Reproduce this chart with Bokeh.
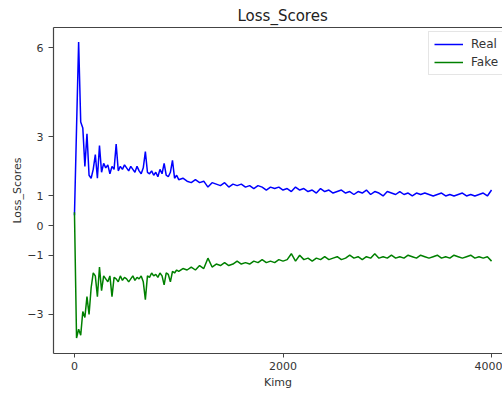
from bokeh.plotting import figure
from bokeh.models import FixedTicker, Range1d, Legend, LegendItem, LinearAxis
from bokeh.embed import file_html
from bokeh.resources import INLINE

# ---- data ----
kimg_early = list(range(0, 1000, 20))
kimg_late = list(range(1000, 4001, 40))
kimg = kimg_early + kimg_late

real_early = [0.35, 3.3, 6.2, 3.5, 3.3, 2.0, 3.1, 1.7, 1.6, 1.9,
              2.4, 1.6, 2.7, 1.8, 2.1, 1.95, 2.05, 1.75, 2.0, 1.9,
              2.75, 1.85, 2.0, 1.9, 2.05, 1.95, 1.85, 2.0, 1.9, 1.8,
              2.0, 1.85, 1.75, 1.95, 2.5, 1.8, 1.75, 1.85, 1.7, 1.8,
              1.65, 1.9, 1.75, 2.1, 1.7, 1.65, 1.8, 2.2, 1.6, 1.7]
real_late = [1.55, 1.6, 1.5, 1.45, 1.55, 1.45, 1.5, 1.3, 1.45, 1.4,
             1.35, 1.45, 1.3, 1.4, 1.35, 1.4, 1.3, 1.35, 1.25, 1.35,
             1.3, 1.2, 1.3, 1.25, 1.3, 1.2, 1.25, 1.15, 1.3, 1.2,
             1.25, 1.15, 1.2, 1.1, 1.25, 1.15, 1.2, 1.1, 1.15, 1.2,
             1.1, 1.15, 1.05, 1.15, 1.1, 1.2, 1.05, 1.15, 1.1, 1.0,
             1.15, 1.1, 1.05, 1.15, 1.05, 1.1, 1.0, 1.1, 1.05, 1.1,
             1.05, 1.0, 1.05, 1.1, 1.0, 1.05, 1.0, 1.05, 1.1, 1.0,
             1.05, 1.0, 1.05, 1.1, 1.0, 1.2]
fake_early = [0.45, -3.8, -3.5, -3.7, -2.9, -3.1, -2.4, -3.0, -2.1, -1.6,
              -1.7, -2.4, -1.4, -2.2, -1.7, -1.8, -1.9, -1.7, -2.4, -1.75,
              -1.8, -1.9, -1.7, -1.85, -1.75, -1.8, -1.9, -1.8, -1.7, -1.85,
              -1.75, -1.8, -1.7, -1.9, -2.5, -1.7, -1.75, -1.6, -1.7, -1.65,
              -1.75, -1.6, -1.7, -2.0, -1.6, -1.65, -1.9, -1.55, -1.6, -1.5]
fake_late = [-1.55, -1.45, -1.5, -1.4, -1.5, -1.35, -1.45, -1.1, -1.4, -1.3,
             -1.35, -1.25, -1.35, -1.3, -1.2, -1.3, -1.25, -1.3, -1.2, -1.25,
             -1.15, -1.25, -1.2, -1.25, -1.15, -1.2, -1.15, -0.95, -1.2, -1.0,
             -1.15, -1.1, -1.2, -1.1, -1.15, -1.05, -1.15, -1.1, -1.05, -1.15,
             -1.1, -1.0, -1.1, -1.05, -1.15, -1.05, -1.1, -0.95, -1.1, -1.05,
             -1.1, -1.0, -1.1, -1.05, -1.1, -1.0, -1.05, -1.1, -1.0, -1.05,
             -1.1, -1.05, -1.0, -1.1, -1.05, -1.1, -1.0, -1.05, -1.1, -1.05,
             -1.0, -1.1, -1.05, -1.1, -1.05, -1.2]
real = real_early + real_late
fake = fake_early + fake_late

x_ticks = [0, 2000, 4000]
y_ticks = [6, 3, 1, 0, -1, -3]

FONT = "DejaVu Sans"
AX = "#444444"
TXT = "#333333"

p = figure(width=502, height=394, output_backend="svg", toolbar_location=None,
           x_range=Range1d(-201, 4105), y_range=Range1d(-4.32, 6.69),
           min_border_left=53, min_border_right=0, min_border_top=27,
           min_border_bottom=41, background_fill_color="white",
           border_fill_color="white")

p.title.text = "Loss_Scores"
p.title.align = "left"
p.title.offset = 184
p.title.text_font = FONT
p.title.text_font_size = "15px"
p.title.text_font_style = "normal"
p.title.text_color = "#222222"
p.title.standoff = 5

# no right spine (it lies beyond the visible area in the reference)
p.outline_line_color = None
p.grid.visible = False

for ax in (p.xaxis[0], p.yaxis[0]):
    ax.axis_line_color = AX
    ax.axis_line_width = 1.2
    ax.major_tick_line_color = AX
    ax.major_tick_in = 0
    ax.minor_tick_line_color = None
    ax.major_label_text_font = FONT
    ax.major_label_text_font_size = "11px"
    ax.major_label_text_color = TXT
    ax.axis_label_text_font = FONT
    ax.axis_label_text_font_size = "11px"
    ax.axis_label_text_font_style = "normal"
    ax.axis_label_text_color = TXT

p.xaxis.ticker = FixedTicker(ticks=x_ticks)
p.yaxis.ticker = FixedTicker(ticks=y_ticks)
p.xaxis.major_tick_out = 4
p.xaxis.major_label_standoff = 4
p.xaxis.axis_label = "Kimg"
p.xaxis.axis_label_standoff = 3
p.yaxis.major_tick_out = 5
p.yaxis.major_label_standoff = 5
p.yaxis.axis_label = "Loss_Scores"
p.yaxis.axis_label_standoff = 0

# top spine: an axis line with no ticks or labels
top_spine = LinearAxis(ticker=FixedTicker(ticks=[]), axis_line_color=AX,
                       axis_line_width=1.2, major_tick_line_color=None,
                       minor_tick_line_color=None, major_label_standoff=0,
                       major_label_text_font_size="0px")
p.add_layout(top_spine, "above")

r_real = p.line(kimg, real, line_color="#0000ff", line_width=1.5)
r_fake = p.line(kimg, fake, line_color="#008000", line_width=1.5)

legend = Legend(items=[LegendItem(label="Real", renderers=[r_real]),
                       LegendItem(label="Fake", renderers=[r_fake])],
                location=(375, 278), padding=5, spacing=4,
                label_height=14, glyph_height=14, glyph_width=29,
                label_standoff=8, label_text_font=FONT,
                label_text_font_size="12px", label_text_color=TXT,
                border_line_color="#cccccc", border_line_width=1,
                background_fill_color="white", background_fill_alpha=0.8,
                margin=0)
p.add_layout(legend, "center")

open("out.html", "w").write(file_html(p, INLINE))
